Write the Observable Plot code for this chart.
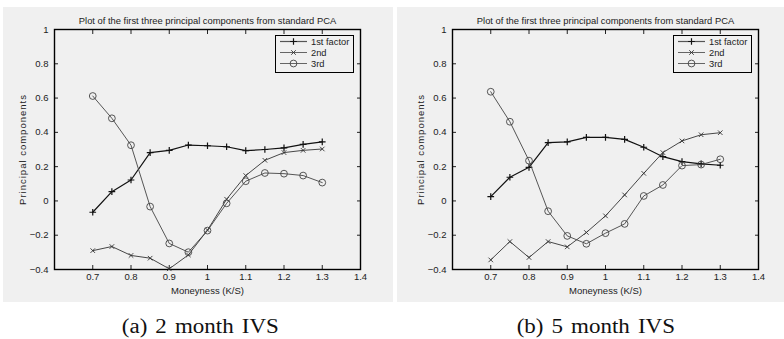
<!DOCTYPE html>
<html><head><meta charset="utf-8">
<script src="https://cdn.jsdelivr.net/npm/d3@7"></script>
<script src="https://cdn.jsdelivr.net/npm/@observablehq/plot@0.6"></script>
<style>
body{margin:0;width:784px;height:339px;background:#fff;position:relative;overflow:hidden;font-family:"Liberation Sans",Arial,sans-serif}
.panel{position:absolute;top:7px;height:295px;background:#f0f0f0}
.panel svg{display:block;overflow:visible}
.legend{position:absolute;border:1.6px solid #000;background:#f0f0f0;box-sizing:border-box}
.caption{position:absolute;top:315px;width:300px;text-align:center;font-family:"Liberation Serif","Times New Roman",serif;font-size:20px;line-height:22px;color:#111}
.caption span{display:inline-block;transform:scaleX(1.15);word-spacing:2px}
</style>
</head><body>
<script>
// ---- data ----
const moneyness = [0.7,0.75,0.8,0.85,0.9,0.95,1.0,1.05,1.1,1.15,1.2,1.25,1.3];
const pc1_2m = [-0.066,0.054,0.122,0.282,0.295,0.326,0.322,0.316,0.293,0.300,0.310,0.330,0.345];
const pc2_2m = [-0.290,-0.266,-0.318,-0.334,-0.396,-0.315,-0.170,0.010,0.148,0.237,0.282,0.295,0.303];
const pc3_2m = [0.612,0.482,0.325,-0.033,-0.248,-0.299,-0.173,-0.014,0.115,0.163,0.159,0.148,0.107];
const pc1_5m = [0.025,0.138,0.196,0.340,0.344,0.371,0.371,0.359,0.313,0.258,0.229,0.216,0.208];
const pc2_5m = [-0.344,-0.237,-0.330,-0.237,-0.268,-0.184,-0.087,0.035,0.161,0.282,0.350,0.386,0.398];
const pc3_5m = [0.637,0.462,0.235,-0.060,-0.204,-0.250,-0.188,-0.134,0.029,0.093,0.206,0.212,0.243];
const seriesNames = ["1st factor","2nd","3rd"];
const xTicks = [0.7,0.8,0.9,1.0,1.1,1.2,1.3,1.4];
const yTicks = [-0.4,-0.2,0,0.2,0.4,0.6,0.8,1];
const chartTitle = "Plot of the first three principal components from standard PCA";
const xLabel = "Moneyness (K/S)";
const yLabel = "Principal components";
const captions = ["(a) 2 month IVS","(b) 5 month IVS"];

// ---- styles ----
const seriesStyle = [
  {stroke:"#111", sw:1.2, symbol:"plus", r:2.3},
  {stroke:"#333", sw:0.9, symbol:"times", r:2.2},
  {stroke:"#444", sw:0.9, symbol:"circle", r:3.4}
];
const d3Sym = {plus:d3.symbolPlus, times:d3.symbolTimes, circle:d3.symbolCircle};
const fmt = d => String(+d.toFixed(2)).replace("-", "\u2212");

function panel(series, cfg) {
  const div = document.createElement("div");
  div.className = "panel";
  div.style.left = cfg.left + "px";
  div.style.width = cfg.width + "px";
  document.body.appendChild(div);
  const marks = [
    Plot.axisX(xTicks, {anchor:"bottom", tickSize:0, tickPadding:4, tickFormat:fmt, fontSize:9.5, label:xLabel, labelAnchor:"center", labelArrow:"none", labelOffset:24}),
    Plot.axisX(xTicks, {anchor:"bottom", tickSize:-4, tickFormat:()=>"", label:null}),
    Plot.axisX(xTicks, {anchor:"top", tickSize:-4, tickFormat:()=>"", label:null}),
    Plot.axisY(yTicks, {anchor:"left", tickSize:0, tickPadding:6, tickFormat:fmt, fontSize:9.5, label:yLabel, labelAnchor:"center", labelArrow:"none", labelOffset:35}),
    Plot.axisY(yTicks, {anchor:"left", tickSize:-4, tickFormat:()=>"", label:null}),
    Plot.axisY(yTicks, {anchor:"right", tickSize:-4, tickFormat:()=>"", label:null}),
    Plot.frame({stroke:"#000", strokeWidth:1.4}),
    Plot.text([chartTitle], {frameAnchor:"top", dy:-12, fontSize:9.4, fill:"#222"})
  ];
  series.forEach((vals, i) => {
    const st = seriesStyle[i];
    const data = moneyness.map((m, j) => ({m, v: vals[j]}));
    marks.push(Plot.line(data, {x:"m", y:"v", stroke:st.stroke, strokeWidth:st.sw}));
    marks.push(Plot.dot(data, {x:"m", y:"v", symbol:st.symbol, r:st.r, stroke:st.stroke, fill:"none", strokeWidth:st.sw}));
  });
  const svg = Plot.plot({
    width: cfg.width, height: 295,
    marginLeft: cfg.ml, marginRight: cfg.mr, marginTop: 22, marginBottom: 33,
    style: {background:"transparent", fontFamily:"'Liberation Sans', Arial, sans-serif", fontSize:"9px", color:"#222"},
    x: {domain:[0.6,1.4]},
    y: {domain:[-0.4,1]},
    marks
  });
  d3.select(svg).selectAll('[aria-label="y-axis label"] text').style("letter-spacing","1px");
  div.appendChild(svg);

  // legend
  const lg = document.createElement("div");
  lg.className = "legend";
  lg.style.left = cfg.lgLeft + "px";
  lg.style.top = "28px";
  lg.style.width = "79px";
  lg.style.height = "38px";
  div.appendChild(lg);
  const ls = d3.select(lg).append("svg").attr("width", 76).attr("height", 35).style("display","block")
    .style("font-family","'Liberation Sans', Arial, sans-serif").style("font-size","9.3px");
  seriesNames.forEach((name, i) => {
    const st = seriesStyle[i];
    const y = 5.5 + i * 11;
    ls.append("line").attr("x1", 4).attr("x2", 31).attr("y1", y).attr("y2", y)
      .attr("stroke", "#555").attr("stroke-width", i === 0 ? 1.2 : 0.9);
    ls.append("path").attr("d", d3.symbol(d3Sym[st.symbol], Math.PI * st.r * st.r)())
      .attr("transform", `translate(17.5,${y})`).attr("fill","none").attr("stroke", st.stroke).attr("stroke-width", st.sw);
    ls.append("text").attr("x", 35).attr("y", y).attr("dy","0.34em").attr("fill","#222").text(name);
  });
}

panel([pc1_2m, pc2_2m, pc3_2m], {left:3, width:390, ml:51, mr:33, lgLeft:272});
panel([pc1_5m, pc2_5m, pc3_5m], {left:397, width:387, ml:55, mr:26, lgLeft:276});

captions.forEach((c, i) => {
  const d = document.createElement("div");
  d.className = "caption";
  d.style.left = (i === 0 ? 50 : 446) + "px";
  const s = document.createElement("span");
  s.textContent = c;
  d.appendChild(s);
  document.body.appendChild(d);
});
</script>
</body></html>
